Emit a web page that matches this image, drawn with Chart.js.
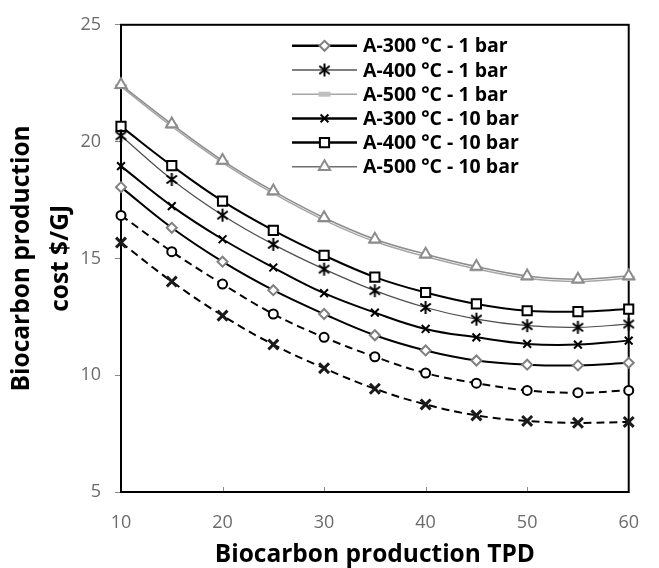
<!DOCTYPE html>
<html><head><meta charset="utf-8">
<script src="https://cdn.jsdelivr.net/npm/chart.js@4.4.1/dist/chart.umd.min.js"></script>
<style>html,body{margin:0;padding:0;background:#fff}</style>
</head><body>
<canvas id="c" width="659" height="568"></canvas>
<script>
// ---- data ----
const tpd = [10, 15, 20, 25, 30, 35, 40, 45, 50, 55, 60];
const a300_1bar  = [18.05, 16.31, 14.86, 13.64, 12.62, 11.71, 11.06, 10.63, 10.45, 10.42, 10.53];
const a400_1bar  = [20.25, 18.38, 16.85, 15.60, 14.54, 13.62, 12.90, 12.40, 12.12, 12.05, 12.19];
const a500_1bar  = [22.35, 20.65, 19.10, 17.78, 16.64, 15.72, 15.08, 14.55, 14.15, 14.01, 14.15];
const a300_10bar = [18.95, 17.24, 15.82, 14.61, 13.51, 12.68, 11.98, 11.62, 11.34, 11.31, 11.48];
const a400_10bar = [20.65, 18.97, 17.45, 16.20, 15.13, 14.20, 13.54, 13.05, 12.76, 12.72, 12.83];
const a500_10bar = [22.43, 20.75, 19.19, 17.88, 16.74, 15.82, 15.18, 14.65, 14.25, 14.11, 14.25];
const dashedCircle = [16.84, 15.29, 13.90, 12.62, 11.62, 10.79, 10.09, 9.66, 9.35, 9.25, 9.35];
const dashedCross  = [15.68, 14.01, 12.55, 11.31, 10.30, 9.42, 8.75, 8.28, 8.04, 7.96, 8.00];
const seriesNames = ['A-300 °C - 1 bar', 'A-400 °C - 1 bar', 'A-500 °C - 1 bar',
                     'A-300 °C - 10 bar', 'A-400 °C - 10 bar', 'A-500 °C - 10 bar'];
const xTicks = [10, 20, 30, 40, 50, 60];
const yTicks = [5, 10, 15, 20, 25];
const xTitle = 'Biocarbon production TPD';
const yTitle = ['Biocarbon production', 'cost $/GJ'];

// ---- markers ----
function makeAsterisk(size, lw, color) {
  const c = document.createElement('canvas'); c.width = size; c.height = size;
  const g = c.getContext('2d'); g.strokeStyle = color; g.lineWidth = lw;
  const m = size / 2, r = size / 2 - 1;
  g.beginPath();
  g.moveTo(m, m - r); g.lineTo(m, m + r);
  const dx = r * 0.8, dy = r * 0.62;
  g.moveTo(m - dx, m - dy); g.lineTo(m + dx, m + dy);
  g.moveTo(m - dx, m + dy); g.lineTo(m + dx, m - dy);
  g.stroke();
  return c;
}
const asterisk = makeAsterisk(15, 2, '#000');

function ds(label, data, o) {
  return Object.assign({
    label, data: tpd.map((x, i) => ({x, y: data[i]})),
    tension: 0.4, clip: false, fill: false, pointBackgroundColor: '#fff', pointHoverRadius: 0
  }, o);
}

const datasets = [
  ds(seriesNames[0], a300_1bar, {borderColor: '#000', borderWidth: 2, pointStyle: 'rectRot', pointRadius: 5,
      pointBorderColor: '#808080', pointBorderWidth: 2}),
  ds(seriesNames[1], a400_1bar, {borderColor: '#4d4d4d', borderWidth: 1.2, pointStyle: asterisk, pointRadius: 7,
      pointBorderColor: '#000', pointBorderWidth: 2}),
  ds(seriesNames[2], a500_1bar, {borderColor: '#a6a6a6', borderWidth: 1.5, pointStyle: 'line', pointRadius: 6,
      pointBorderColor: '#bfbfbf', pointBorderWidth: 5}),
  ds(seriesNames[3], a300_10bar, {borderColor: '#000', borderWidth: 2, pointStyle: 'crossRot', pointRadius: 5.5,
      pointBorderColor: '#000', pointBorderWidth: 2}),
  ds(seriesNames[4], a400_10bar, {borderColor: '#000', borderWidth: 2, pointStyle: 'rect', pointRadius: 6.5,
      pointBorderColor: '#000', pointBorderWidth: 2}),
  ds(seriesNames[5], a500_10bar, {borderColor: '#8c8c8c', borderWidth: 1.5, pointStyle: 'triangle', pointRadius: 6.5,
      pointBorderColor: '#8c8c8c', pointBorderWidth: 2, order: -1}),
  ds('dashed-circle', dashedCircle, {borderColor: '#000', borderWidth: 2, borderDash: [8, 5], pointStyle: 'circle',
      pointRadius: 4.5, pointBorderColor: '#000', pointBorderWidth: 2}),
  ds('dashed-cross', dashedCross, {borderColor: '#000', borderWidth: 2, borderDash: [8, 5], pointStyle: 'crossRot',
      pointRadius: 7, pointBorderColor: '#1a1a1a', pointBorderWidth: 3})
];

// ---- legend drawing ----
function drawMarker(ctx, d, x, y) {
  const style = d.pointStyle, r = d.pointRadius;
  ctx.save();
  ctx.strokeStyle = d.pointBorderColor; ctx.fillStyle = d.pointBackgroundColor; ctx.lineWidth = d.pointBorderWidth;
  ctx.beginPath();
  if (style instanceof HTMLCanvasElement) {
    ctx.drawImage(style, x - style.width / 2, y - style.height / 2);
  } else if (style === 'rectRot') {
    ctx.moveTo(x, y - r); ctx.lineTo(x + r, y); ctx.lineTo(x, y + r); ctx.lineTo(x - r, y); ctx.closePath();
    ctx.fill(); ctx.stroke();
  } else if (style === 'rect') {
    const s = r * Math.SQRT1_2; ctx.rect(x - s, y - s, 2 * s, 2 * s); ctx.fill(); ctx.stroke();
  } else if (style === 'triangle') {
    const e = r * 3 / Math.sqrt(3), h = e * Math.sqrt(3) / 2;
    ctx.moveTo(x - e / 2, y + h / 3); ctx.lineTo(x + e / 2, y + h / 3); ctx.lineTo(x, y - 2 * h / 3); ctx.closePath();
    ctx.fill(); ctx.stroke();
  } else if (style === 'crossRot') {
    const o = r * Math.SQRT1_2;
    ctx.moveTo(x - o, y - o); ctx.lineTo(x + o, y + o); ctx.moveTo(x - o, y + o); ctx.lineTo(x + o, y - o); ctx.stroke();
  } else if (style === 'line') {
    ctx.moveTo(x - r, y); ctx.lineTo(x + r, y); ctx.stroke();
  }
  ctx.restore();
}

const legendLineW = [2.5, 1.2, 1.5, 2.5, 2.5, 1.5];
const legendLineC = ['#000', '#000', '#a6a6a6', '#000', '#000', '#6e6e6e'];

const framePlugin = {
  id: 'frame',
  beforeDatasetsDraw(chart) {
    const {ctx, chartArea: a, scales: {x}} = chart;
    ctx.save();
    ctx.strokeStyle = '#888'; ctx.lineWidth = 1;
    xTicks.slice(1, -1).forEach(v => {
      const px = Math.round(x.getPixelForValue(v)) + 0.5;
      ctx.beginPath(); ctx.moveTo(px, a.bottom); ctx.lineTo(px, a.bottom - 5); ctx.stroke();
    });
    ctx.strokeStyle = '#000'; ctx.lineWidth = 2;
    ctx.strokeRect(a.left, a.top, a.right - a.left, a.bottom - a.top);
    ctx.restore();
  },
  afterDraw(chart) {
    const {ctx, chartArea: a} = chart;
    const x1 = a.left + 171, x2 = a.left + 236, xm = (x1 + x2) / 2, xt = a.left + 242;
    ctx.save();
    ctx.font = 'bold 19.5px "Open Sans"';
    ctx.textBaseline = 'middle'; ctx.textAlign = 'left'; ctx.fillStyle = '#000';
    for (let i = 0; i < 6; i++) {
      const y = a.top + 21 + i * 24.2;
      const d = datasets[i];
      ctx.strokeStyle = legendLineC[i]; ctx.lineWidth = legendLineW[i];
      ctx.beginPath(); ctx.moveTo(x1, y); ctx.lineTo(x2, y); ctx.stroke();
      drawMarker(ctx, d, xm, y);
      ctx.fillStyle = '#000';
      ctx.fillText(seriesNames[i], xt, y + 1);
    }
    ctx.restore();
  }
};

new Chart(document.getElementById('c'), {
  type: 'line',
  data: {datasets},
  plugins: [framePlugin],
  options: {
    responsive: false, animation: false, events: [],
    layout: {padding: {left: 0, right: 14, top: 23, bottom: 0}},
    plugins: {legend: {display: false}, tooltip: {enabled: false}},
    scales: {
      x: {
        type: 'linear', min: 10, max: 60,
        afterBuildTicks: s => { s.ticks = xTicks.map(v => ({value: v})); },
        afterFit: s => { s.height = 76; },
        grid: {display: false, drawTicks: false},
        border: {display: false},
        ticks: {padding: 20, color: '#6b6b6b', font: {family: 'Open Sans', size: 18}, maxRotation: 0},
        title: {display: true, text: xTitle, color: '#000', font: {family: 'Open Sans', size: 24.5, weight: 'bold', lineHeight: 1.1},
                padding: {top: 0, bottom: 0}}
      },
      y: {
        type: 'linear', min: 5, max: 25,
        afterBuildTicks: s => { s.ticks = yTicks.map(v => ({value: v})); },
        afterFit: s => { s.width = 121; },
        grid: {display: true, drawOnChartArea: false, drawTicks: true, tickLength: 6, color: '#888', lineWidth: 1},
        border: {display: false},
        ticks: {padding: 14, color: '#6b6b6b', font: {family: 'Open Sans', size: 18}},
        title: {display: true, text: yTitle, color: '#000', font: {family: 'Open Sans', size: 24.5, weight: 'bold', lineHeight: 1.6},
                padding: {top: 2.5, bottom: 0}}
      }
    }
  }
});
</script>
</body></html>
